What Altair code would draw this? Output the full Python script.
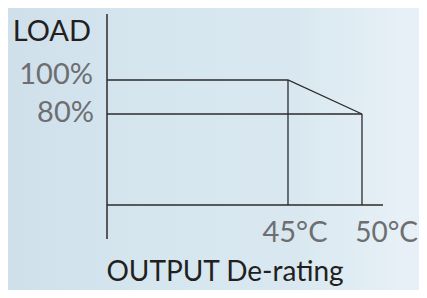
import altair as alt
import pandas as pd

# ---- data ----
temps = [45, 50]
temp_labels = ["45°C", "50°C"]
loads = [100, 80]
load_labels = ["100%", "80%"]
axis_label = "LOAD"
title_text = "OUTPUT De-rating"

# ---- layout constants ----
X_MIN, X_MAX = 32.77, 51.42      # x scale domain (y-axis sits at X_MIN)
Y_MIN, Y_MAX = 6.47, 138.82      # y scale domain
Y_BASE = 26.47                   # level of the horizontal baseline
W, H = 276, 225
PAD = {"left": 99, "top": 6, "right": 36, "bottom": 51}

FONT = "Lato"
DARK = "#231f20"
GREY = "#6d6e71"
LINE = "#2b2b2b"

xs = alt.Scale(domain=[X_MIN, X_MAX], nice=False, zero=False)
ys = alt.Scale(domain=[Y_MIN, Y_MAX], nice=False, zero=False)

one = pd.DataFrame({"k": [0]})

bg = alt.Chart(one).mark_rect(
    color=alt.LinearGradient(
        gradient="linear", x1=0, x2=1, y1=0, y2=0,
        stops=[alt.GradientStop(color="#cfe0eb", offset=0),
               alt.GradientStop(color="#d6e6ef", offset=0.35),
               alt.GradientStop(color="#d9e8f0", offset=0.7),
               alt.GradientStop(color="#e6f0f6", offset=0.95),
               alt.GradientStop(color="#e6f0f6", offset=1)]
    )
).encode(
    x=alt.value(-PAD["left"]), x2=alt.value(W + PAD["right"]),
    y=alt.value(-PAD["top"]), y2=alt.value(H + PAD["bottom"])
)

# y axis line
yaxis_df = pd.DataFrame({"x": [X_MIN], "y": [Y_MIN], "y2": [Y_MAX]})
yaxis = alt.Chart(yaxis_df).mark_rule(color="#58595b", strokeWidth=2).encode(
    x=alt.X("x:Q", scale=xs, axis=None),
    y=alt.Y("y:Q", scale=ys, axis=None), y2="y2:Q")

# baseline
base_df = pd.DataFrame({"x": [X_MIN], "x2": [X_MAX], "y": [Y_BASE]})
baseline = alt.Chart(base_df).mark_rule(color=LINE, strokeWidth=1.3).encode(
    x=alt.X("x:Q", scale=xs, axis=None), x2="x2:Q",
    y=alt.Y("y:Q", scale=ys, axis=None))

# derating curve: 100% up to 45°C then down to 80% at 50°C
curve_df = pd.DataFrame({"t": [X_MIN] + temps, "l": [loads[0]] + loads, "o": [0, 1, 2]})
curve = alt.Chart(curve_df).mark_line(color=LINE, strokeWidth=1.3).encode(
    x=alt.X("t:Q", scale=xs, axis=None),
    y=alt.Y("l:Q", scale=ys, axis=None), order="o:Q")

# 80% reference line
ref_df = pd.DataFrame({"x": [X_MIN], "x2": [temps[1]], "y": [loads[1]]})
ref = alt.Chart(ref_df).mark_rule(color=LINE, strokeWidth=1.3).encode(
    x=alt.X("x:Q", scale=xs, axis=None), x2="x2:Q",
    y=alt.Y("y:Q", scale=ys, axis=None))

# vertical drops
vert_df = pd.DataFrame({"t": temps, "l": loads, "b": [Y_BASE] * 2})
verts = alt.Chart(vert_df).mark_rule(color=LINE, strokeWidth=1.3).encode(
    x=alt.X("t:Q", scale=xs, axis=None),
    y=alt.Y("l:Q", scale=ys, axis=None), y2="b:Q")

txt = dict(font=FONT, fontSize=29, baseline="alphabetic")

load_text = alt.Chart(one).mark_text(align="right", color=DARK, **txt).encode(
    x=alt.value(-16), y=alt.value(27), text=alt.value(axis_label))

lab100 = alt.Chart(pd.DataFrame({"l": [loads[0]], "s": [load_labels[0]]})).mark_text(
    align="right", color=GREY, dy=4, **txt).encode(
    x=alt.value(-14), y=alt.Y("l:Q", scale=ys, axis=None), text="s:N")
lab80 = alt.Chart(pd.DataFrame({"l": [loads[1]], "s": [load_labels[1]]})).mark_text(
    align="right", color=GREY, dy=8, **txt).encode(
    x=alt.value(-13), y=alt.Y("l:Q", scale=ys, axis=None), text="s:N")

lab45 = alt.Chart(pd.DataFrame({"t": [temps[0]], "s": [temp_labels[0]]})).mark_text(
    align="center", color=GREY, dx=7, **txt).encode(
    x=alt.X("t:Q", scale=xs, axis=None), y=alt.value(228), text="s:N")
lab50 = alt.Chart(pd.DataFrame({"t": [temps[1]], "s": [temp_labels[1]]})).mark_text(
    align="right", color=GREY, dx=56, font=FONT, fontSize=28, baseline="alphabetic").encode(
    x=alt.X("t:Q", scale=xs, axis=None), y=alt.value(228), text="s:N")

title = alt.Chart(one).mark_text(align="center", color=DARK, font=FONT, fontSize=28,
                                 baseline="alphabetic").encode(
    x=alt.value(118), y=alt.value(267), text=alt.value(title_text))

chart = alt.layer(
    bg, yaxis, baseline, curve, ref, verts,
    load_text, lab100, lab80, lab45, lab50, title
).properties(
    width=W, height=H, padding=PAD,
    autosize=alt.AutoSizeParams(type="none"),
    background="#d6e6ef"
).configure_view(stroke=None)

chart.save("out.html", embed_options={"renderer": "svg", "actions": False})
